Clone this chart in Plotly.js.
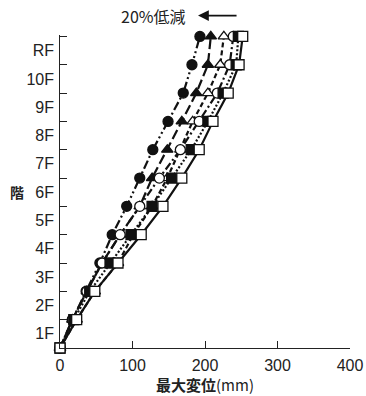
<!DOCTYPE html>
<html>
<head>
<meta charset="utf-8">
<script src="https://cdn.plot.ly/plotly-3.0.1.min.js"></script>
<style>html,body{margin:0;padding:0;background:#fff;}#chart{width:366px;height:396px;}</style>
</head>
<body>
<div id="chart"></div>
<script>
// Floor levels (0 = ground, 11 = RF)
const levels = [0, 1, 2, 3, 4, 5, 6, 7, 8, 9, 10, 11];
const floorLabels = ["1F", "2F", "3F", "4F", "5F", "6F", "7F", "8F", "9F", "10F", "RF"];
const floorLabelPos = [0.5, 1.5, 2.5, 3.5, 4.5, 5.5, 6.5, 7.5, 8.5, 9.5, 10.5];
const xTicks = [0, 100, 200, 300, 400];

// Max displacement (mm) per level
const filledCircle   = [0, 17, 36, 55, 72, 92, 110, 128, 149, 170, 182, 193];
const filledTriangle = [0, 17, 37, 58, 83, 110, 127, 148, 168, 188, 204, 208];
const openTriangle   = [0, 23, 48, 80, 101, 127, 148, 166, 183, 204, 221, 226];
const openCircle     = [0, 17, 37, 58, 83, 110, 137, 166, 192, 217, 234, 239];
const filledSquare   = [0, 19, 41, 69, 98, 127, 154, 181, 204, 225, 243, 246];
const openSquare     = [0, 23, 48, 80, 112, 142, 168, 192, 211, 232, 247, 252];

function tr(xs, symbol, fill, dash) {
  return {
    x: xs, y: levels, type: 'scatter', mode: 'lines+markers', cliponaxis: false,
    line: {color: '#111', width: 2.2, dash: dash},
    marker: {symbol: symbol, size: 10, color: fill, line: {color: '#111', width: 1.3}},
    showlegend: false, hoverinfo: 'skip'
  };
}

const data = [
  tr(filledCircle, 'circle', '#111', '9px,3px,2px,3px,2px,3px'),
  tr(filledTriangle, 'triangle-up', '#111', '10px,4px'),
  tr(openTriangle, 'triangle-up', '#fff', '5px,3px'),
  tr(openCircle, 'circle', '#fff', '8px,3px,2px,3px'),
  tr(filledSquare, 'square', '#111', '2px,2px'),
  tr(openSquare, 'square', '#fff', 'solid')
];
// invisible trace to activate secondary y axis for floor labels
data.push({x: [0], y: [0], yaxis: 'y2', type: 'scatter', mode: 'markers',
  marker: {opacity: 0}, showlegend: false, hoverinfo: 'skip'});

const fontFam = '"Liberation Sans", Arial, "Noto Sans CJK JP", sans-serif';
const cjk = '"Noto Sans CJK JP", "Liberation Sans", sans-serif';

const layout = {
  width: 366, height: 396,
  margin: {l: 60, r: 16, t: 35, b: 48},
  paper_bgcolor: '#fff', plot_bgcolor: '#fff',
  font: {family: fontFam, size: 15, color: '#222'},
  xaxis: {
    range: [0, 400], tickvals: xTicks, ticktext: xTicks.map(String),
    ticks: 'inside', ticklen: 7, tickcolor: '#222', tickwidth: 1,
    showline: true, linecolor: '#222', linewidth: 1.2,
    showgrid: false, zeroline: false, fixedrange: true,
    ticklabelstandoff: 3,
    tickfont: {size: 16, family: fontFam, color: '#222'},
    title: {text: '<b>最大変位</b>(mm)', font: {family: cjk, size: 15, color: '#222'}, standoff: 2}
  },
  yaxis: {
    range: [0, 11.05], tickvals: levels.slice(1), showticklabels: false,
    ticks: 'inside', ticklen: 7, tickcolor: '#222', tickwidth: 1,
    showline: true, linecolor: '#222', linewidth: 1.2,
    showgrid: false, zeroline: false, fixedrange: true
  },
  yaxis2: {
    overlaying: 'y', side: 'left', range: [0, 11.05],
    tickvals: floorLabelPos, ticktext: floorLabels, ticks: '',
    showline: false, showgrid: false, zeroline: false, fixedrange: true,
    ticklabelstandoff: 5,
    tickfont: {size: 16, family: fontFam, color: '#222'}
  },
  annotations: [
    {xref: 'paper', yref: 'paper', x: -0.148, y: 0.5, xanchor: 'center', yanchor: 'middle',
     text: '<b>階</b>', showarrow: false,
     font: {family: cjk, size: 14, color: '#222'}},
    {xref: 'paper', yref: 'paper', x: 0.441, y: 1.06, xanchor: 'right', yanchor: 'middle',
     text: '20%低減', showarrow: false,
     font: {family: cjk, size: 16, color: '#222'}},
    {xref: 'paper', yref: 'paper', x: 0.476, y: 1.062, text: '', showarrow: true,
     ax: 40, ay: 0, arrowhead: 2, arrowsize: 1.2, arrowwidth: 1.8, arrowcolor: '#111'}
  ]
};

Plotly.newPlot('chart', data, layout, {displayModeBar: false, staticPlot: true});
</script>
</body>
</html>
